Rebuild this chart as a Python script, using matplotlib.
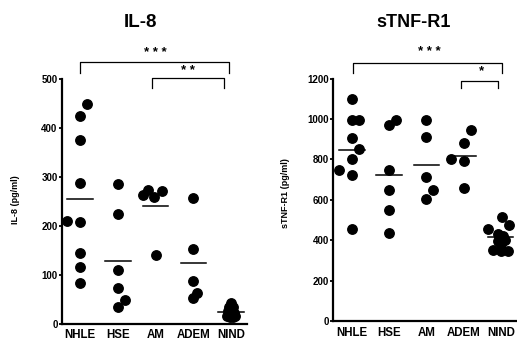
import matplotlib
matplotlib.use("Agg")
import matplotlib.pyplot as plt

plt.rcParams['font.family'] = ['Liberation Sans', 'DejaVu Sans']

groups = ["NHLE", "HSE", "AM", "ADEM", "NIND"]

# IL-8 (pg/ml)
il8_vals = [
    [448, 423, 374, 286, 210, 208, 143, 116, 83],
    [284, 223, 109, 72, 47, 33],
    [262, 272, 258, 270, 140],
    [257, 153, 87, 53, 62],
    [42, 34, 33, 26, 24, 22, 15, 14, 13, 15],
]
il8_dx = [
    [0.18, 0, 0, 0, -0.33, 0, 0, 0, 0],
    [0, 0, 0, 0, 0.19, 0],
    [-0.34, -0.21, -0.03, 0.16, 0],
    [0, 0, 0, 0, 0.1],
    [0, -0.05, 0.05, -0.08, 0, 0.08, -0.11, -0.04, 0.04, 0.11],
]
il8_mean = [255, 128, 240, 123, 24]

# sTNF-R1 (pg/ml)
tnf_vals = [
    [1099, 997, 997, 906, 851, 803, 745, 724, 456],
    [972, 993, 749, 646, 550, 435],
    [997, 911, 712, 650, 603],
    [803, 790, 881, 943, 658],
    [517, 455, 476, 431, 420, 400, 395, 380, 352, 344, 344],
]
tnf_dx = [
    [0, 0, 0.19, 0, 0.19, 0, -0.35, 0, 0],
    [0, 0.18, 0, 0, 0, 0],
    [0, 0, 0, 0.18, 0],
    [-0.35, 0, 0, 0.21, 0],
    [0.02, -0.34, 0.22, -0.07, 0.05, 0.12, -0.08, 0.0, -0.2, 0.0, 0.2],
]
tnf_mean = [844, 724, 770, 815, 415]

# brackets: (x1, x2, y, drop, label, label_x, label_y)
il8_brackets = [(0, 3.95, 534, 23, "* * *", 1.99, 540),
                (1.9, 3.8, 501, 21, "* *", 2.86, 503)]
tnf_brackets = [(0.02, 4.03, 1279, 51, "* * *", 2.09, 1300),
                (2.94, 3.92, 1186, 32, "*", 3.47, 1205)]


def draw_panel(ax, vals, dx, means, brackets, ylabel, ymax, yticks, xlim):
    for i, (v, d) in enumerate(zip(vals, dx)):
        ax.plot([i + o for o in d], v, 'o', color='black', ms=6.8, clip_on=False, zorder=3)
        ax.plot([i - 0.34, i + 0.34], [means[i], means[i]], color='black', lw=1.1, clip_on=False)
    for x1, x2, y, drop, lab, lx, ly in brackets:
        ax.plot([x1, x1, x2, x2], [y - drop, y, y, y - drop], color='black', lw=0.9, clip_on=False)
        ax.text(lx, ly, lab, ha='center', va='bottom', fontsize=9.5, fontweight='bold')
    ax.set_xlim(*xlim)
    ax.set_ylim(0, ymax)
    ax.set_yticks(yticks)
    ax.set_xticks(range(len(groups)))
    ax.set_xticklabels(groups, fontsize=8.3, fontweight='bold')
    ax.tick_params(axis='x', length=0, pad=4)
    ax.tick_params(axis='y', length=2.5, width=1.3, pad=0.5, labelsize=7)
    for t in ax.get_yticklabels():
        t.set_fontweight('bold')
    for s in ['top', 'right']:
        ax.spines[s].set_visible(False)
    for s in ['left', 'bottom']:
        ax.spines[s].set_linewidth(1.6)
    ax.set_ylabel(ylabel, fontsize=6.5, fontweight='bold')


fig = plt.figure(figsize=(5.17, 3.46), dpi=100)
ax1 = fig.add_axes([0.1193, 0.065, 0.358, 0.708])
ax2 = fig.add_axes([0.6447, 0.0723, 0.355, 0.7006])

draw_panel(ax1, il8_vals, il8_dx, il8_mean, il8_brackets, "IL-8 (pg/ml)",
           500, [0, 100, 200, 300, 400, 500], (-0.48, 4.41))
draw_panel(ax2, tnf_vals, tnf_dx, tnf_mean, tnf_brackets, "sTNF-R1 (pg/ml)",
           1200, [0, 200, 400, 600, 800, 1000, 1200], (-0.5, 4.43))

ax1.yaxis.set_label_coords(-0.225, 0.504)
ax2.yaxis.set_label_coords(-0.236, 0.528)

fig.text(0.271, 0.936, "IL-8", ha='center', va='center', fontsize=13.5, fontweight='bold')
fig.text(0.799, 0.936, "sTNF-R1", ha='center', va='center', fontsize=13, fontweight='bold')

fig.savefig("out.png", dpi=100)
